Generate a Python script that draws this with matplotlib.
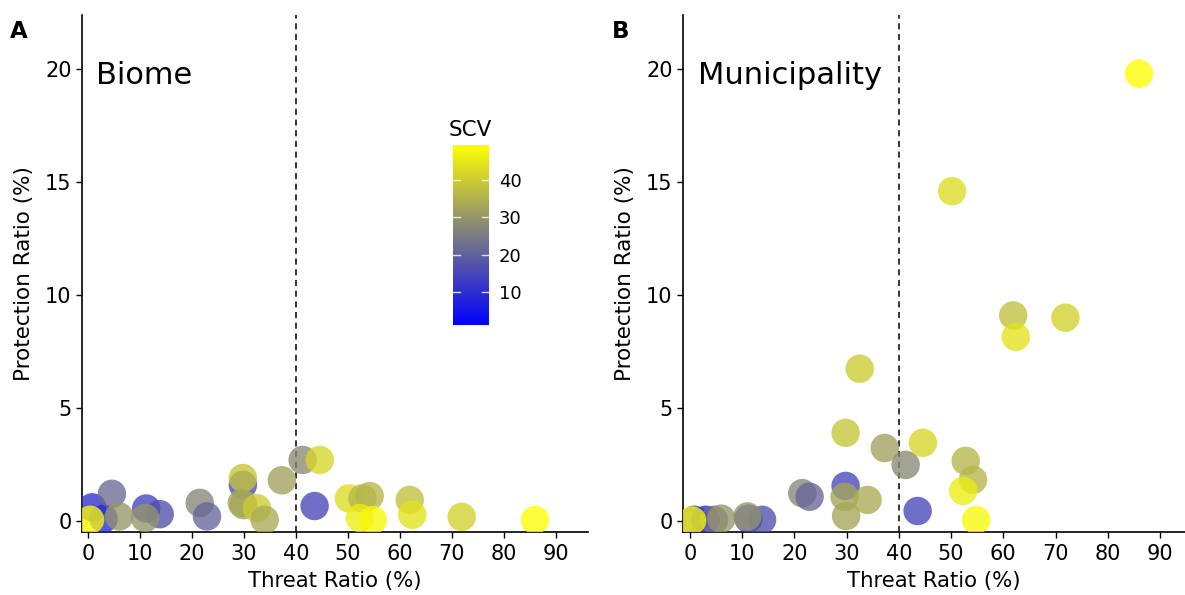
import numpy as np
import matplotlib
matplotlib.use("Agg")
import matplotlib.pyplot as plt
from matplotlib.colors import LinearSegmentedColormap, Normalize

# Threat ratio (%) - same municipalities shown in both panels
threat = [0.8, 3.0, 4.6, 0.4, 11.2, 13.8, 6.0, 11.0, 21.5, 22.9,
          29.8, 29.8, 29.6, 29.9, 32.5, 34.0, 37.3, 41.3, 44.6, 43.6,
          50.2, 52.8, 54.2, 52.3, 54.8, 61.9, 62.4, 71.9, 86.0]
# Protection ratio (%) at biome scale
prot_biome = [0.6, 0.1, 1.2, 0.05, 0.55, 0.3, 0.2, 0.13, 0.8, 0.2,
              1.6, 1.9, 0.8, 0.7, 0.57, 0.05, 1.8, 2.7, 2.7, 0.66,
              1.0, 1.0, 1.1, 0.13, 0.04, 0.93, 0.27, 0.18, 0.04]
# Protection ratio (%) at municipality scale
prot_mun = [0.05, 0.05, 0.05, 0.02, 0.1, 0.05, 0.1, 0.2, 1.23, 1.07,
            1.55, 3.9, 1.07, 0.22, 6.74, 0.93, 3.23, 2.48, 3.46, 0.44,
            14.6, 2.66, 1.82, 1.33, 0.04, 9.1, 8.15, 9.0, 19.8]
# SCV colour value
scv = [10, 9, 22, 48, 14, 17, 30, 30, 27, 21,
       15, 39, 33, 33, 40, 34, 32, 28, 42, 15,
       43, 36, 36, 46, 48, 38, 44, 41, 49]

scv_min, scv_max, scv_mid = 1.2, 49.4, 26
mid_pos = (scv_mid - scv_min) / (scv_max - scv_min)
cmap = LinearSegmentedColormap.from_list(
    "scv", [(0, "#0000FF"), (mid_pos, "#7F7F7F"), (1, "#FFFF00")])
norm = Normalize(scv_min, scv_max)

plt.rcParams['font.family'] = 'DejaVu Sans'

fig = plt.figure(figsize=(11.85, 5.95), dpi=100)
W, H = 1185, 595

def make_axes(left, right):
    return fig.add_axes([left / W, (H - 532) / H, (right - left) / W, (532 - 15) / H])

axA = make_axes(82, 588)
axB = make_axes(683, 1185)

panels = [(axA, prot_biome, "Biome", (-1.15, 96.2), "A", 10),
          (axB, prot_mun, "Municipality", (-1.34, 94.8), "B", 612)]

sc = None
for ax, prot, title, xl, letter, lx in panels:
    sc = ax.scatter(threat, prot, c=scv, cmap=cmap, norm=norm, s=420,
                    alpha=0.78, linewidths=0, zorder=3)
    ax.axvline(40, color="black", linestyle=(0, (4, 3)), linewidth=1.1, zorder=2)
    ax.set_xlim(*xl)
    ax.set_ylim(-0.49, 22.4)
    ax.set_xticks(np.arange(0, 91, 10))
    ax.set_yticks([0, 5, 10, 15, 20])
    for s in ["top", "right"]:
        ax.spines[s].set_visible(False)
    for s in ["left", "bottom"]:
        ax.spines[s].set_linewidth(1.2)
    ax.tick_params(labelsize=15, length=4, width=1.0, colors="black")
    ax.tick_params(axis="x", pad=5)
    ax.set_xlabel("Threat Ratio (%)", fontsize=15.3, labelpad=5)
    ax.set_ylabel("Protection Ratio (%)", fontsize=15.5, labelpad=8)
    ax.text(1.6, 19.7, title, fontsize=22, ha="left", va="center")
    fig.text(lx / W, (H - 38) / H, letter, fontsize=16.5, fontweight="bold")

# colour bar inside panel A
cax = fig.add_axes([453 / W, (H - 325) / H, 36 / W, 180 / H])
cb = fig.colorbar(sc, cax=cax, ticks=[10, 20, 30, 40])
cb.solids.set_alpha(1)
cb.outline.set_visible(False)
cax.tick_params(labelsize=13, length=0, pad=7)
for v in [10, 20, 30, 40]:
    cax.plot([0, 0.2], [v, v], color="white", lw=1, alpha=0.8)
    cax.plot([0.8, 1.0], [v, v], color="white", lw=1, alpha=0.8)
cax.set_xlim(0, 1)
fig.text(449 / W, (H - 130) / H, "SCV", fontsize=15.5, ha="left", va="center")

fig.savefig("out.png", dpi=100)
